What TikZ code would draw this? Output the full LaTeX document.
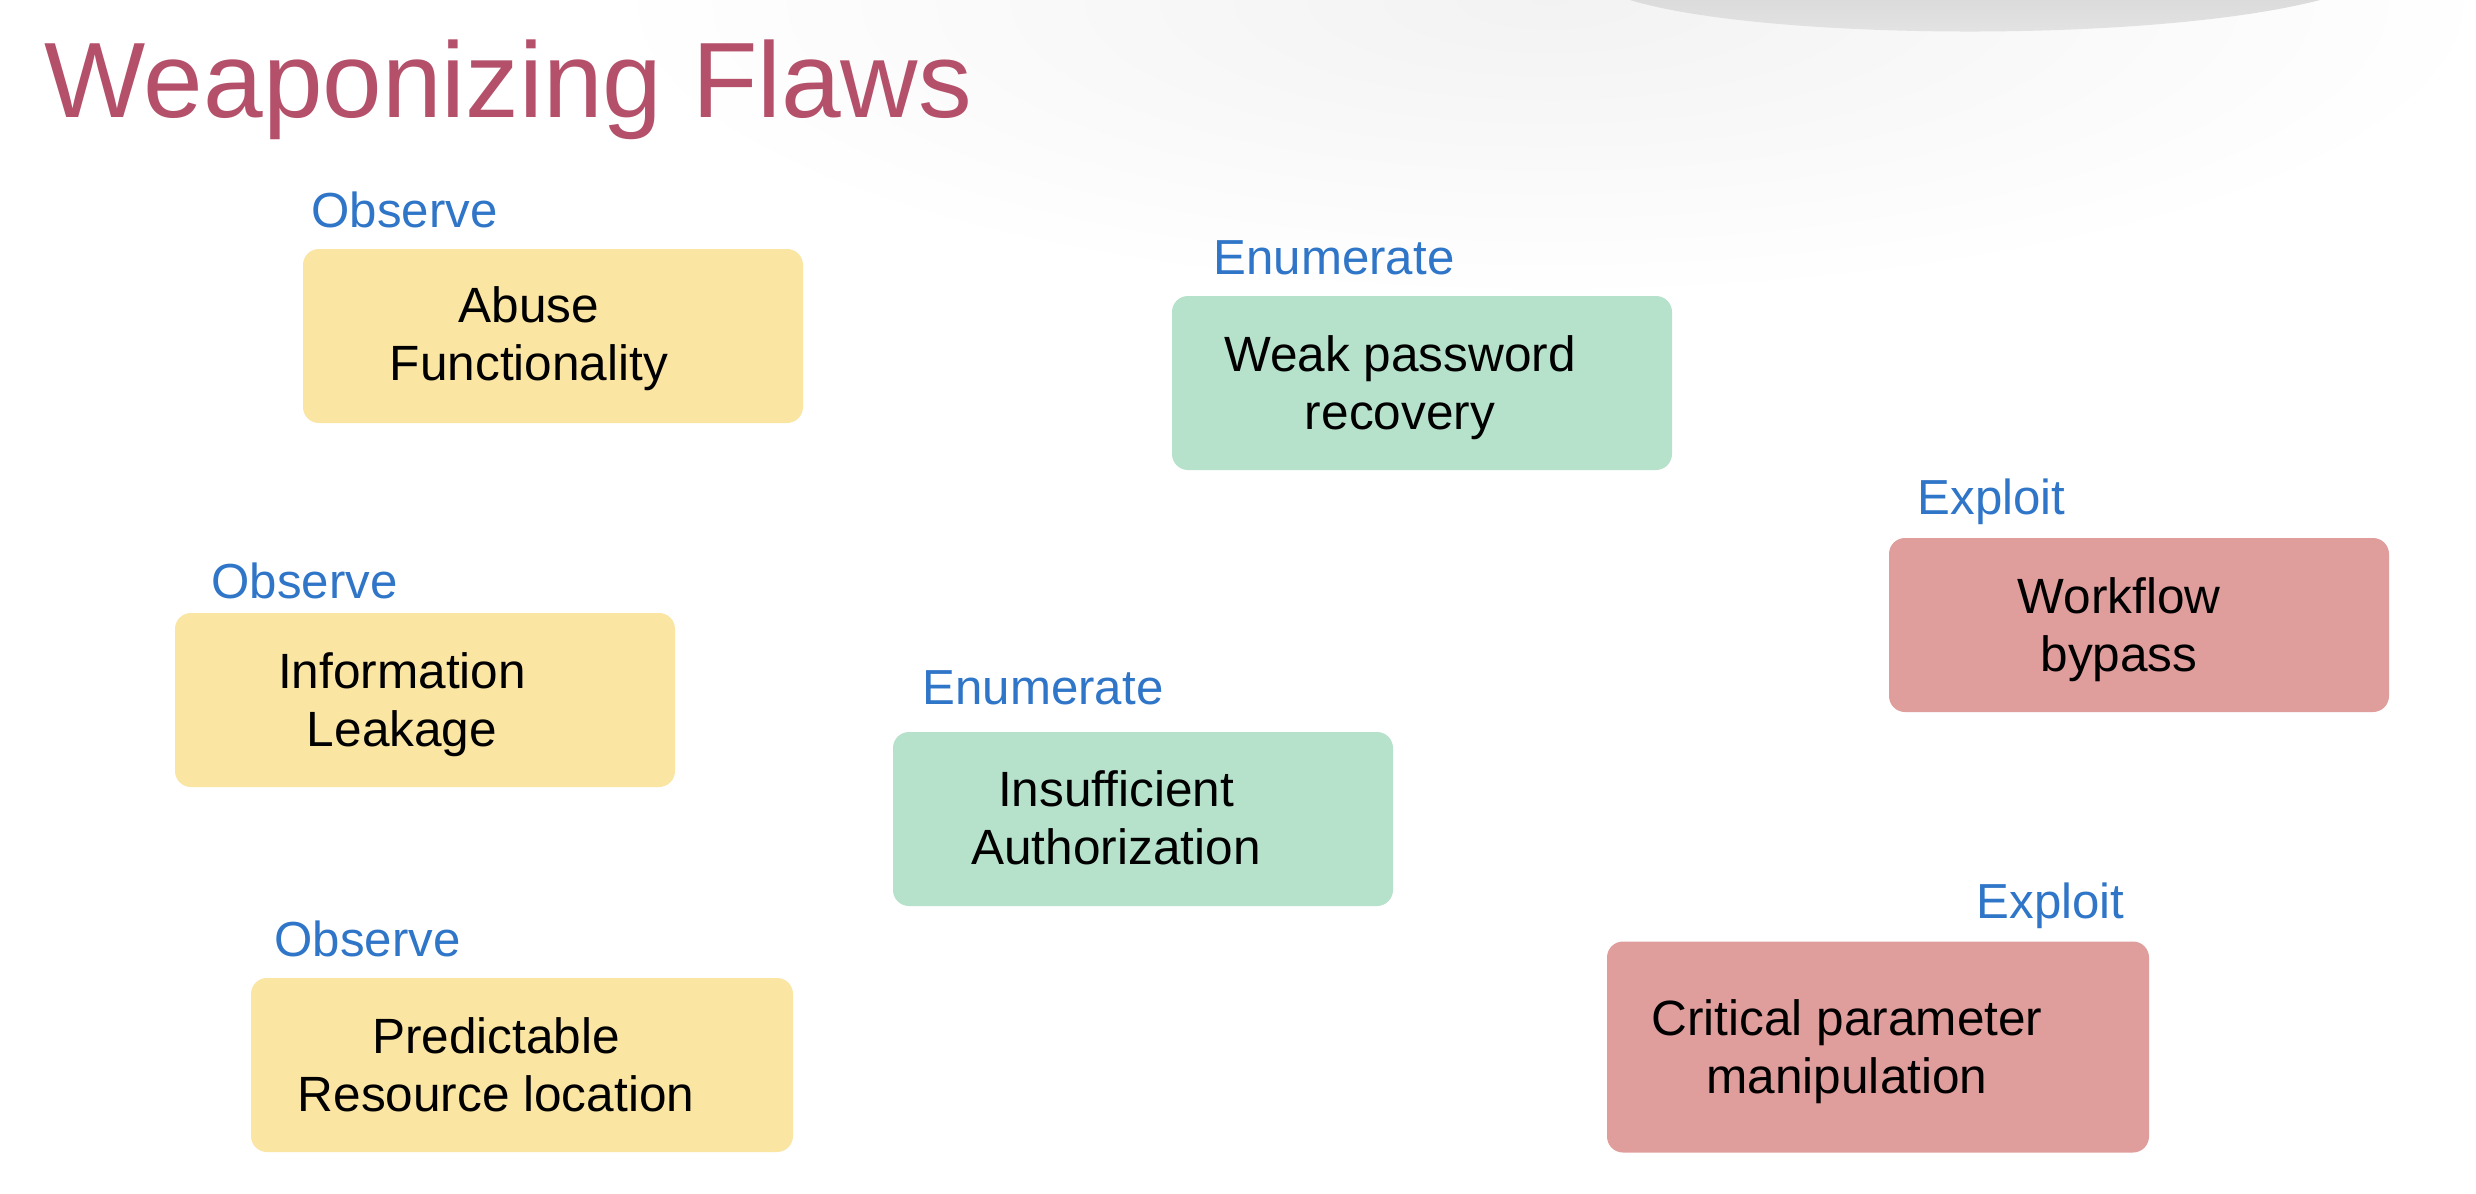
\documentclass[tikz,border=0pt]{standalone}
\usepackage{fontspec}
\setmainfont{Liberation Sans}
\definecolor{titlerose}{HTML}{B5506A}
\definecolor{phaseblue}{HTML}{2F75C8}
\definecolor{obsyellow}{HTML}{FAE5A3}
\definecolor{enugreen}{HTML}{B6E2CC}
\definecolor{exppink}{HTML}{DF9D9C}
\begin{document}
\begin{tikzpicture}[x=0.1mm,y=-0.1mm,
    box/.style={rounded corners=1.6mm, minimum width=50mm, minimum height=17.4mm, inner sep=0},
    obsbox/.style={box, fill=obsyellow},
    enubox/.style={box, fill=enugreen},
    expbox/.style={box, fill=exppink},
    boxtext/.style={align=center, inner sep=0, font=\fontsize{14.1}{16.5}\selectfont},
    phase/.style={anchor=base west, inner sep=0, text=phaseblue, font=\fontsize{14}{16.8}\selectfont}]
    % page and the soft grey swoosh at the top
    \fill[white] (0,0) rectangle (2476,1194);
    \useasboundingbox (0,0) rectangle (2476,1194);
    \begin{scope}
      \clip (0,0) rectangle (2476,1194);
      \shade[inner color=black!5, outer color=white] (1550,0) ellipse (950 and 300);
      \shade[top color=black!14, bottom color=black!10] (1630,0) .. controls (1760,40) and (2150,44) .. (2320,0) -- cycle;
    \end{scope}
    \node[anchor=base west, inner sep=0, text=titlerose, font=\fontsize{30.5}{36}\selectfont] (title) at (44,117) {Weaponizing Flaws};

    % observe
    \node[obsbox] (abuse) at (553,336) {};
    \node[boxtext] (abuse-t) at (529,339) {Abuse\\Functionality};
    \node[phase] (abuse-l) at (311,227) {Observe};
    \node[obsbox] (leak) at (425,700) {};
    \node[boxtext] (leak-t) at (402,705) {Information\\Leakage};
    \node[phase] (leak-l) at (211,598) {Observe};
    \node[obsbox, minimum width=54.2mm] (predres) at (522,1065) {};
    \node[boxtext] (predres-t) at (496,1065) {Predictable\\Resource location};
    \node[phase] (predres-l) at (274,956) {Observe};

    % enumerate
    \node[enubox] (weakpw) at (1422,383) {};
    \node[boxtext] (weakpw-t) at (1400,388) {Weak password\\recovery};
    \node[phase] (weakpw-l) at (1213,274) {Enumerate};
    \node[enubox] (insauth) at (1143,819) {};
    \node[boxtext] (insauth-t) at (1116,818) {Insufficient\\Authorization};
    \node[phase] (insauth-l) at (922,704) {Enumerate};

    % exploit
    \node[expbox] (bypass) at (2139,625) {};
    \node[boxtext] (bypass-t) at (2119,630) {Workflow\\bypass};
    \node[phase] (bypass-l) at (1917,514) {Exploit};
    \node[expbox, minimum width=54.2mm, minimum height=21.1mm] (critpar) at (1878,1047) {};
    \node[boxtext] (critpar-t) at (1847,1052) {Critical parameter\\manipulation};
    \node[phase] (critpar-l) at (1976,918) {Exploit};
  \end{tikzpicture}
\end{document}
